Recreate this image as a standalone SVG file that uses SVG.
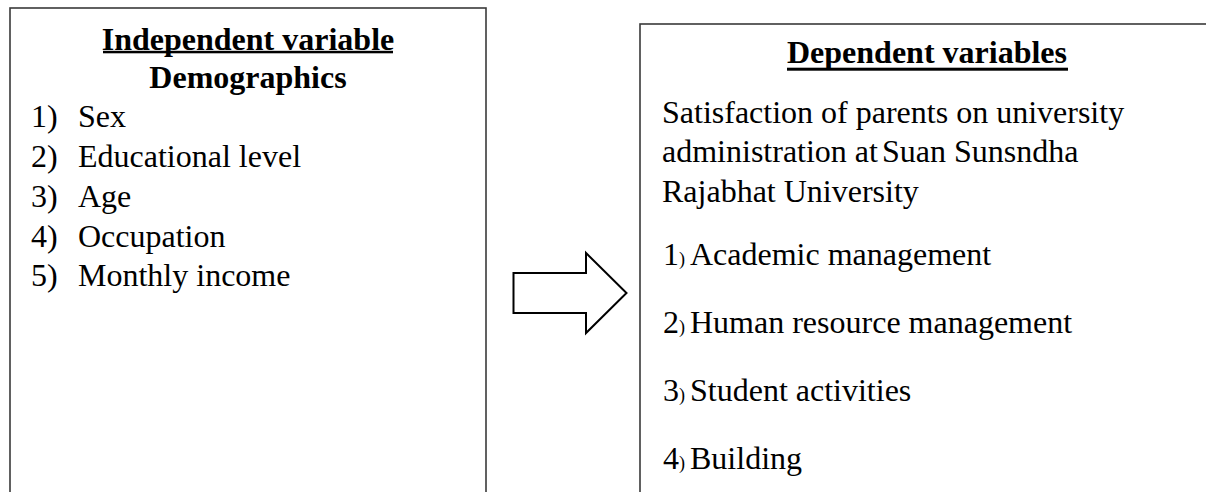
<svg xmlns="http://www.w3.org/2000/svg" width="1206" height="492" viewBox="0 0 1206 492">
<style>
  .box { fill: #ffffff; stroke: #3a3a3a; stroke-width: 1.6; }
  .t { font-family: "Liberation Serif", "Times New Roman", serif; font-size: 32px; fill: #000; }
  .b { font-weight: bold; }
  .sm { font-size: 18px; }
  .ul { fill: #000; }
  .arrow { fill: #ffffff; stroke: #000; stroke-width: 2; stroke-linejoin: miter; }
</style>
<rect width="1206" height="492" fill="#ffffff"/>
<g id="independent">
  <rect class="box" x="10" y="8" width="476" height="500"/>
  <text class="t b" x="248" y="49.5" text-anchor="middle">Independent variable</text>
  <rect class="ul" x="103" y="50.8" width="290" height="2.5"/>
  <text class="t b" x="248" y="87.5" text-anchor="middle">Demographics</text>
  <text class="t" x="31" y="127">1)</text><text class="t" x="78" y="127">Sex</text>
  <text class="t" x="31" y="167">2)</text><text class="t" x="78" y="167">Educational level</text>
  <text class="t" x="31" y="207">3)</text><text class="t" x="78" y="207">Age</text>
  <text class="t" x="31" y="247">4)</text><text class="t" x="78" y="247">Occupation</text>
  <text class="t" x="31" y="286">5)</text><text class="t" x="78" y="286">Monthly income</text>
</g>
<g id="connectors">
  <polygon class="arrow" points="513.5,273 586,273 586,253 626.5,293 586,333 586,313 513.5,313"/>
</g>
<g id="dependent">
  <rect class="box" x="640" y="24" width="580" height="490"/>
  <text class="t b" x="927" y="63.3" text-anchor="middle">Dependent variables</text>
  <rect class="ul" x="787" y="67.7" width="281" height="3"/>
  <text class="t" x="662" y="123">Satisfaction of parents on university</text>
  <text class="t" x="662" y="162">administration at<tspan x="882">Suan Sunsndha</tspan></text>
  <text class="t" x="662" y="202">Rajabhat University</text>
  <text class="t" x="663" y="265">1<tspan class="sm">)</tspan><tspan x="690">Academic management</tspan></text>
  <text class="t" x="663" y="333">2<tspan class="sm">)</tspan><tspan x="690">Human resource management</tspan></text>
  <text class="t" x="663" y="401">3<tspan class="sm">)</tspan><tspan x="690">Student activities</tspan></text>
  <text class="t" x="663" y="469">4<tspan class="sm">)</tspan><tspan x="690">Building</tspan></text>
</g>
</svg>
